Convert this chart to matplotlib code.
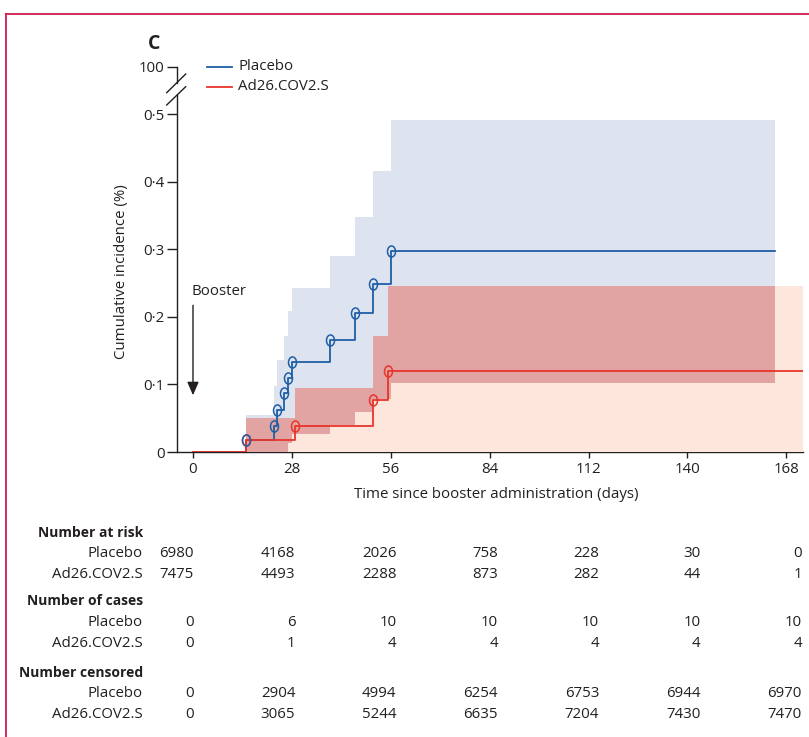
import numpy as np
import matplotlib.pyplot as plt
from matplotlib.lines import Line2D
from matplotlib.path import Path
from matplotlib.transforms import Affine2D

plt.rcParams['font.family'] = ['Open Sans', 'DejaVu Sans']

# cumulative incidence (%) as step functions, each value holds from its time on
placebo_t = [0, 15.0, 22.8, 23.9, 25.8, 26.8, 27.9, 38.9, 45.9, 51.0, 56.1, 164.8]
placebo_inc = [0, 0.018, 0.039, 0.062, 0.087, 0.110, 0.133, 0.166, 0.205, 0.248, 0.297, 0.297]
placebo_lo = [0, 0, 0, 0, 0, 0.014, 0.027, 0.040, 0.059, 0.079, 0.102, 0.102]
placebo_hi = [0, 0.054, 0.097, 0.136, 0.171, 0.208, 0.242, 0.290, 0.348, 0.416, 0.491, 0.491]

vacc_t = [0, 15.0, 28.9, 51.0, 55.1, 172.7]
vacc_inc = [0, 0.018, 0.0385, 0.077, 0.120, 0.120]
vacc_lo = [0, 0, 0, 0, 0, 0]
vacc_hi = [0, 0.050, 0.095, 0.171, 0.245, 0.245]

# numbers below the plot
table_days = [0, 28, 56, 84, 112, 140, 168]
risk_placebo = [6980, 4168, 2026, 758, 228, 30, 0]
risk_vacc = [7475, 4493, 2288, 873, 282, 44, 1]
cases_placebo = [0, 6, 10, 10, 10, 10, 10]
cases_vacc = [0, 1, 4, 4, 4, 4, 4]
cens_placebo = [0, 2904, 4994, 6254, 6753, 6944, 6970]
cens_vacc = [0, 3065, 5244, 6635, 7204, 7430, 7470]

y_ticks = [0, 0.1, 0.2, 0.3, 0.4, 0.5]
y_labels = ['0', '0·1', '0·2', '0·3', '0·4', '0·5']

BLUE = '#1f5fa6'
RED = '#e8352b'
BLUE_BAND = '#dde3ef'
RED_BAND = '#fde6dc'
OVERLAP = '#e2a4a3'
INK = '#231f20'
FRAME = '#cf1d50'
FS = 10.8

W, H = 809, 737
fig = plt.figure(figsize=(W / 100, H / 100), dpi=100)


def fx(px):
    return px / W


def fy(py):
    return 1 - py / H


ax = fig.add_axes([fx(177), fy(452), (803 - 177) / W, (452 - 66.7) / H])
ax.set_xlim(-4.53, 172.7)
ax.set_ylim(0, 0.570)


def step_at(times, vals, t):
    i = np.searchsorted(times, t, side='right') - 1
    return np.asarray(vals)[i]


# confidence bands, overlap drawn darker
ax.fill_between(placebo_t, placebo_lo, placebo_hi, step='post', color=BLUE_BAND, lw=0, zorder=1)
ax.fill_between(vacc_t, vacc_lo, vacc_hi, step='post', color=RED_BAND, lw=0, zorder=1)
grid = np.union1d(placebo_t, vacc_t)
grid = grid[grid <= placebo_t[-1]]
lo = np.maximum(step_at(placebo_t, placebo_lo, grid), step_at(vacc_t, vacc_lo, grid))
hi = np.minimum(step_at(placebo_t, placebo_hi, grid), step_at(vacc_t, vacc_hi, grid))
hi = np.maximum(hi, lo)
ax.fill_between(grid, lo, hi, step='post', color=OVERLAP, lw=0, zorder=1.5)

# curves and event markers
ax.step(placebo_t, placebo_inc, where='post', color=BLUE, lw=1.3, zorder=3)
ax.step(vacc_t, vacc_inc, where='post', color=RED, lw=1.3, zorder=3.1)
ell = Path.unit_circle().transformed(Affine2D().scale(0.72, 1.0))
ax.plot(vacc_t[1:-1], vacc_inc[1:-1], ls='none', marker=ell, ms=8,
        mfc='none', mec=RED, mew=1.1, zorder=4)
ax.plot(placebo_t[1:-1], placebo_inc[1:-1], ls='none', marker=ell, ms=8,
        mfc='none', mec=BLUE, mew=1.1, zorder=4.1)

# axes styling
for s in ['top', 'right', 'left']:
    ax.spines[s].set_visible(False)
ax.spines['bottom'].set_color(INK)
ax.spines['bottom'].set_linewidth(1.0)
ax.spines['bottom'].set_zorder(0.5)
ax.set_xticks(table_days)
ax.set_xticklabels([str(d) for d in table_days])
ax.set_yticks(y_ticks + [0.570])
ax.set_yticklabels(y_labels + ['100'])
ax.tick_params(axis='x', length=4.5, width=1.0, color=INK, labelcolor=INK,
               labelsize=FS, pad=3)
ax.tick_params(axis='y', length=7, width=1.0, color=INK, labelcolor=INK,
               labelsize=FS, pad=2)

# broken y axis drawn by hand
ax_line = dict(color=INK, lw=1.0)
fig.add_artist(Line2D([fx(177), fx(177)], [fy(452), fy(94.9)], **ax_line))
fig.add_artist(Line2D([fx(177), fx(177)], [fy(82.6), fy(66.7)], **ax_line))
fig.add_artist(Line2D([fx(166.7), fx(185.7)], [fy(92.7), fy(74)], **ax_line))
fig.add_artist(Line2D([fx(166.7), fx(185.7)], [fy(105), fy(86.7)], **ax_line))

# booster arrow
ax.annotate('', xy=(0, 0.084), xytext=(0, 0.217),
            arrowprops=dict(arrowstyle='-|>,head_length=0.8,head_width=0.35',
                            color=INK, lw=1.0, shrinkA=0, shrinkB=0))
ax.text(-0.4, 0.237, 'Booster', ha='left', va='center', fontsize=FS, color=INK)

# labels
fig.text(fx(496), fy(494), 'Time since booster administration (days)',
         ha='center', va='center', fontsize=FS, color=INK)
fig.text(fx(122), fy(272), 'Cumulative incidence (%)', rotation=90,
         ha='center', va='center', fontsize=FS, color=INK)
fig.text(fx(154), fy(44), 'C', ha='center', va='center', fontsize=14,
         fontweight='bold', color=INK)

# legend
for py, lab, col in [(66.7, 'Placebo', BLUE), (86.7, 'Ad26.COV2.S', RED)]:
    fig.add_artist(Line2D([fx(207), fx(232)], [fy(py), fy(py)], color=col, lw=1.3))
    fig.text(fx(238), fy(py), lab, ha='left', va='center', fontsize=FS, color=INK)

# risk table
rows = [
    ('Number at risk', None, 532.7),
    ('Placebo', risk_placebo, 553.3),
    ('Ad26.COV2.S', risk_vacc, 575),
    ('Number of cases', None, 600.7),
    ('Placebo', cases_placebo, 622.3),
    ('Ad26.COV2.S', cases_vacc, 643.3),
    ('Number censored', None, 673.3),
    ('Placebo', cens_placebo, 693.3),
    ('Ad26.COV2.S', cens_vacc, 714),
]
for lab, vals, py in rows:
    if vals is None:
        fig.text(fx(143), fy(py), lab, ha='right', va='center', fontsize=10,
                 fontweight='bold', color=INK)
        continue
    fig.text(fx(143), fy(py), lab, ha='right', va='center', fontsize=FS, color=INK)
    for i, v in enumerate(vals):
        fig.text(fx(194 + 101.3 * i), fy(py), str(v), ha='right', va='center',
                 fontsize=FS, color=INK)

# panel frame (top and left edges)
fig.add_artist(Line2D([fx(6), fx(809)], [fy(14), fy(14)], color=FRAME, lw=1.3))
fig.add_artist(Line2D([fx(6), fx(6)], [fy(14), fy(737)], color=FRAME, lw=1.3))

fig.savefig('out.png', dpi=100)
